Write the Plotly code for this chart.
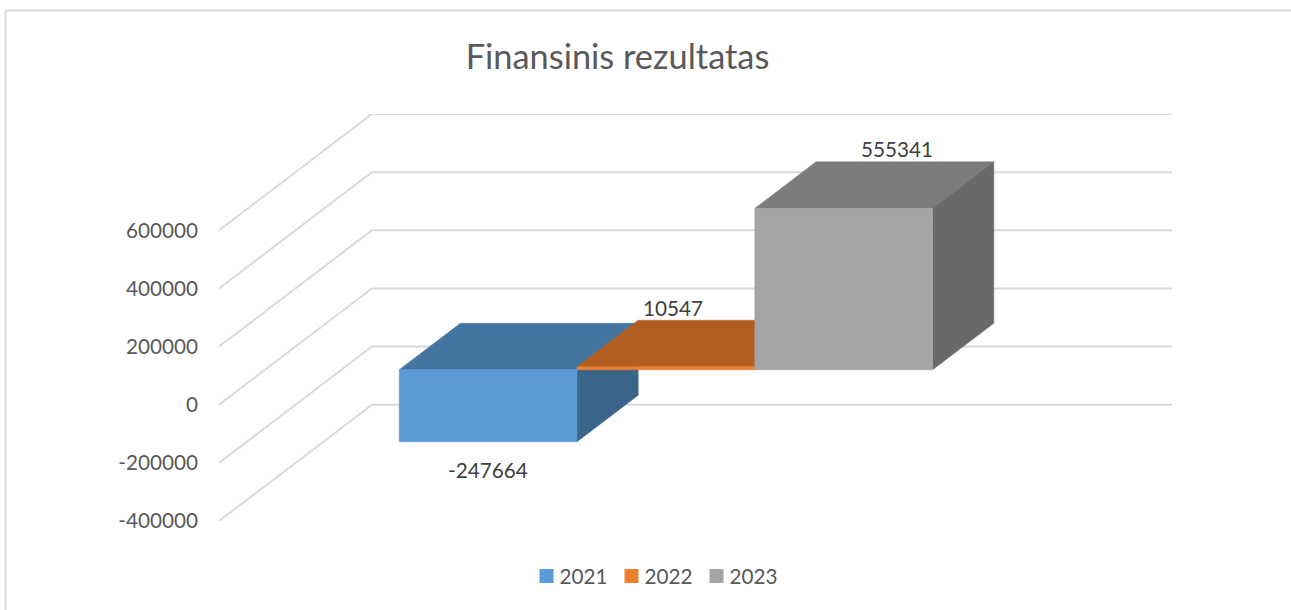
import plotly.graph_objects as go

# ---- data ----
title_text = "Finansinis rezultatas"
series_names = ["2021", "2022", "2023"]
series_values = [-247664, 10547, 555341]
tick_values = [-400000, -200000, 0, 200000, 400000, 600000]

# ---- style ----
front_colors = ["#5B9BD5", "#ED7D31", "#A5A5A5"]
top_colors = ["#4474A0", "#B25E22", "#7C7C7C"]
side_colors = ["#3A6488", "#96501E", "#696969"]
GRID = "#D9D9D9"
FONT = "Lato"
W, H = 1291, 610
L, R, T, B = 219, 119, 114, 89
X_END = (W - L - R) / 800          # category width = 1 unit = 800 px
Y_MIN, Y_MAX = -400000, 1000000
DEPTH_X, DEPTH_Y = 153 / 800, 400000   # oblique shift of the back wall
BAR_W = 177.8 / 800
GAP = (1 - 3 * BAR_W) / 2 + 1 / 800
NEAR, FAR = 0.3, 0.7               # depth fractions of bar front and back
label_shift = [(0, 28), (7, -59), (53, -59)]  # px from the bar's end centre


def px(f):
    return f * DEPTH_X


def py(f):
    return f * DEPTH_Y


fig = go.Figure()

# wall gridlines
for v in tick_values:
    fig.add_trace(go.Scatter(
        x=[0, DEPTH_X, X_END], y=[v, v + DEPTH_Y, v + DEPTH_Y],
        mode="lines", line=dict(color=GRID, width=2),
        showlegend=False, hoverinfo="skip"))


def face(xs, ys, color):
    fig.add_trace(go.Scatter(
        x=xs + xs[:1], y=ys + ys[:1], mode="lines", fill="toself",
        fillcolor=color, line=dict(color=color, width=0.5),
        showlegend=False, hoverinfo="skip"))


annotations = []
for i, v in enumerate(series_values):
    x0 = GAP + i * BAR_W + px(NEAR)
    x1 = x0 + BAR_W
    base = py(NEAR)
    lo, hi = min(0, v) + base, max(0, v) + base
    dx, dy = px(FAR - NEAR), py(FAR - NEAR)
    # top, side, front
    face([x0, x1, x1 + dx, x0 + dx], [hi, hi, hi + dy, hi + dy], top_colors[i])
    face([x1, x1 + dx, x1 + dx, x1], [hi, hi + dy, lo + dy, lo], side_colors[i])
    face([x0, x1, x1, x0], [lo, lo, hi, hi], front_colors[i])
    sx, sy = label_shift[i]
    annotations.append(dict(
        x=(x0 + x1) / 2, y=(lo if v < 0 else hi), text=str(v), showarrow=False,
        xshift=sx, yshift=-sy, xanchor="center", yanchor="middle",
        font=dict(family=FONT, size=20.7, color="#404040")))

# legend entries
for name, color in zip(series_names, front_colors):
    fig.add_trace(go.Scatter(
        x=[None], y=[None], mode="markers", name=name,
        marker=dict(symbol="square", size=14, color=color)))

frame_left = (5.5 - L) / (W - L - R)
frame_right = (W - L) / (W - L - R)
frame_top = 1 + (T - 10.5) / (H - T - B)
frame_bottom = -B / (H - T - B)
shapes = [
    dict(type="line", xref="paper", yref="paper", x0=frame_left, x1=frame_right,
         y0=frame_top, y1=frame_top, line=dict(color=GRID, width=2)),
    dict(type="line", xref="paper", yref="paper", x0=frame_left, x1=frame_left,
         y0=frame_top, y1=frame_bottom, line=dict(color=GRID, width=2)),
]

fig.update_layout(
    width=W, height=H, autosize=False,
    margin=dict(l=L, r=R, t=T, b=B),
    paper_bgcolor="white", plot_bgcolor="white",
    title=dict(text=title_text, xref="container", yref="container",
               x=617.5 / W, y=1 - 57 / H, xanchor="center", yanchor="middle",
               font=dict(family=FONT, size=34.4, color="#595959")),
    xaxis=dict(range=[0, X_END], visible=False, fixedrange=True),
    yaxis=dict(range=[Y_MIN, Y_MAX], tickvals=tick_values,
               ticktext=[str(t) for t in tick_values], showgrid=False, zeroline=False,
               showline=False, ticks="", ticklabelstandoff=20,
               tickfont=dict(family=FONT, size=20.7, color="#595959"), fixedrange=True),
    legend=dict(orientation="h", xref="container", yref="container",
                x=654 / W, y=1 - 576 / H, xanchor="center", yanchor="middle",
                entrywidth=40, entrywidthmode="pixels",
                font=dict(family=FONT, size=20.7, color="#595959"),
                itemclick=False, itemdoubleclick=False),
    shapes=shapes, annotations=annotations, showlegend=True,
)

fig.write_html(
    "out.html", config={"displayModeBar": False},
    post_script=(
        "document.body.style.margin='0';"
        "document.querySelectorAll('.legendtext').forEach(function(t){"
        "t.setAttribute('x', parseFloat(t.getAttribute('x'))-7);});"
    ),
)
